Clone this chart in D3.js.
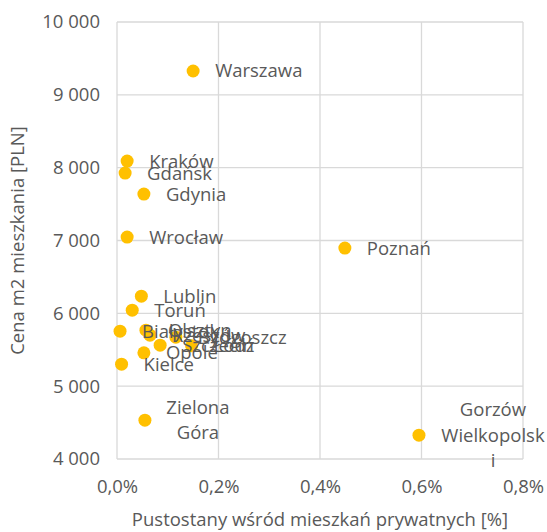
<!DOCTYPE html>
<html>
<head>
<meta charset="utf-8">
<script src="https://cdn.jsdelivr.net/npm/d3@7"></script>
<style>
  body { margin: 0; background: #fff; }
  svg text { font-family: "Open Sans", sans-serif; fill: #595959; }
</style>
</head>
<body>
<div id="chart"></div>
<script>
// cities, vacancy share (%) and price per m2 (PLN)
var cities = ["Warszawa", "Kraków", "Gdańsk", "Gdynia", "Wrocław", "Poznań", "Lublin", "Toruń",
  "Białystok", "Olsztyn", "Rzeszów", "Bydgoszcz", "Szczecin", "Łódź", "Opole", "Kielce",
  "Zielona Góra", "Gorzów Wielkopolski"];
var vacancy = [0.150, 0.020, 0.016, 0.053, 0.020, 0.449, 0.048, 0.030,
  0.006, 0.057, 0.065, 0.116, 0.085, 0.147, 0.053, 0.009,
  0.055, 0.595];
var price = [9327, 8091, 7926, 7637, 7047, 6896, 6236, 6044,
  5755, 5769, 5700, 5673, 5563, 5554, 5458, 5302,
  4533, 4327];
// how the wrapped labels break
var labelLines = {
  "Zielona Góra": ["Zielona", "Góra"],
  "Gorzów Wielkopolski": ["Gorzów", "Wielkopolsk", "i"]
};
var xTicks = [0, 0.2, 0.4, 0.6, 0.8];
var yTicks = [4000, 5000, 6000, 7000, 8000, 9000, 10000];

var width = 547, height = 532;
var plotLeft = 117, plotRight = 523, plotTop = 22, plotBottom = 459;
var fontSize = "18.5px";

var pl = d3.formatLocale({decimal: ",", thousands: "\u00a0", grouping: [3], currency: ["", ""]});

var xScale = d3.scaleLinear().domain([0, 0.8]).range([plotLeft, plotRight]);
var yScale = d3.scaleLinear().domain([4000, 10000]).range([plotBottom, plotTop]);

var svg = d3.select("#chart").append("svg")
  .attr("width", width)
  .attr("height", height);

// gridlines
svg.append("g").selectAll("line")
  .data(yTicks)
  .enter().append("line")
  .attr("x1", plotLeft).attr("x2", plotRight)
  .attr("y1", function(d) { return yScale(d); })
  .attr("y2", function(d) { return yScale(d); })
  .attr("stroke", "#d9d9d9")
  .attr("stroke-width", 1.3);

svg.append("g").selectAll("line")
  .data(xTicks)
  .enter().append("line")
  .attr("x1", function(d) { return xScale(d); })
  .attr("x2", function(d) { return xScale(d); })
  .attr("y1", plotTop).attr("y2", plotBottom)
  .attr("stroke", "#d9d9d9")
  .attr("stroke-width", 1.3);

// axes (only the labels, lines are the grid)
var yAxis = svg.append("g")
  .attr("transform", "translate(" + plotLeft + ",0)")
  .call(d3.axisLeft(yScale).tickValues(yTicks).tickSize(0).tickPadding(17)
    .tickFormat(function(d) { return pl.format(",")(d); }));
yAxis.select(".domain").remove();
yAxis.selectAll("text").style("font-size", fontSize).style("font-family", "Open Sans").attr("fill", "#595959");

var xAxis = svg.append("g")
  .attr("transform", "translate(0," + plotBottom + ")")
  .call(d3.axisBottom(xScale).tickValues(xTicks).tickSize(0).tickPadding(21)
    .tickFormat(function(d) { return pl.format(".1f")(d) + "%"; }));
xAxis.select(".domain").remove();
xAxis.selectAll("text").style("font-size", fontSize).style("font-family", "Open Sans").attr("fill", "#595959");

// points
svg.append("g").selectAll("circle")
  .data(cities)
  .enter().append("circle")
  .attr("cx", function(d, i) { return xScale(vacancy[i]); })
  .attr("cy", function(d, i) { return yScale(price[i]); })
  .attr("r", 6.5)
  .attr("fill", "#ffc000");

// data labels
cities.forEach(function(name, i) {
  var px = xScale(vacancy[i]), py = yScale(price[i]);
  var lines = labelLines[name];
  if (!lines) {
    svg.append("text")
      .attr("x", px + 22)
      .attr("y", py)
      .attr("dy", "0.35em")
      .style("font-size", fontSize)
      .text(name);
  } else {
    var cx = px + 22 + (name == "Zielona Góra" ? 31 : 52);
    lines.forEach(function(l, j) {
      svg.append("text")
        .attr("x", cx)
        .attr("y", py + (j - (lines.length - 1) / 2) * 25.5)
        .attr("dy", "0.35em")
        .attr("text-anchor", "middle")
        .style("font-size", fontSize)
        .text(l);
    });
  }
});

// axis titles
svg.append("text")
  .attr("transform", "translate(24," + ((plotTop + plotBottom) / 2) + ") rotate(-90)")
  .attr("text-anchor", "middle")
  .style("font-size", fontSize)
  .text("Cena m2 mieszkania [PLN]");

svg.append("text")
  .attr("x", (plotLeft + plotRight) / 2)
  .attr("y", 526)
  .attr("text-anchor", "middle")
  .style("font-size", fontSize)
  .text("Pustostany wśród mieszkań prywatnych [%]");
</script>
</body>
</html>
